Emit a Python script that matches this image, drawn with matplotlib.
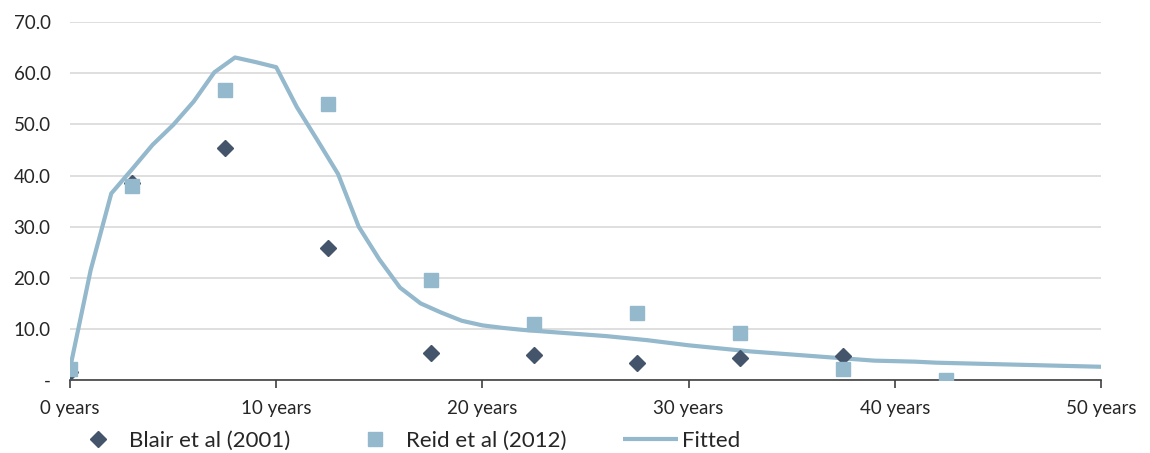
import matplotlib
matplotlib.use("Agg")
import matplotlib.pyplot as plt
from matplotlib.ticker import FixedLocator, FuncFormatter

# ------------------------------
# DATA
# ------------------------------
blair_x = [0, 3, 7.5, 12.5, 17.5, 22.5, 27.5, 32.5, 37.5]
blair_y = [1.5, 38.5, 45.3, 25.8, 5.3, 5.0, 3.3, 4.4, 4.8]

reid_x = [0, 3, 7.5, 12.5, 17.5, 22.5, 27.5, 32.5, 37.5, 42.5]
reid_y = [2.2, 38.0, 56.7, 54.0, 19.5, 10.9, 13.1, 9.2, 2.2, 0.0]

fit_x = list(range(0, 51))
fit_y = [2.3, 21.5, 36.5, 41.2, 46.0, 49.9, 54.5, 60.2, 63.1, 62.2,
         61.2, 53.4, 46.9, 40.3, 30.0, 23.6, 18.1, 15.0, 13.2, 11.6,
         10.7, 10.2, 9.8, 9.5, 9.2, 8.9, 8.6, 8.2, 7.8, 7.3,
         6.8, 6.4, 6.0, 5.6, 5.3, 5.0, 4.7, 4.4, 4.1, 3.8,
         3.7, 3.6, 3.4, 3.3, 3.2, 3.1, 3.0, 2.9, 2.8, 2.7, 2.6]

x_ticks = [0, 10, 20, 30, 40, 50]
y_ticks = [0, 10, 20, 30, 40, 50, 60, 70]

DARK = "#44546A"
LIGHT = "#94B8CC"
TEXT = "#262626"

plt.rcParams['font.family'] = ['Lato', 'DejaVu Sans']

fig = plt.figure(figsize=(11.5, 4.53), dpi=100)
ax = fig.add_axes([0.0609, 0.161, 0.8965, 0.790])

ax.plot(fit_x, fit_y, color=LIGHT, lw=3, solid_capstyle='butt',
        label="Fitted", zorder=3)
ax.plot(blair_x, blair_y, ls='none', marker='D', ms=8.5, color=DARK,
        mec=DARK, label="Blair et al (2001)", zorder=4)
ax.plot(reid_x, reid_y, ls='none', marker='s', ms=10, color=LIGHT,
        mec=LIGHT, label="Reid et al (2012)", zorder=5)

ax.set_xlim(0, 50)
ax.set_ylim(0, 70)
ax.xaxis.set_major_locator(FixedLocator(x_ticks))
ax.yaxis.set_major_locator(FixedLocator(y_ticks))
ax.xaxis.set_major_formatter(FuncFormatter(lambda v, p: f"{int(v)} years"))
ax.yaxis.set_major_formatter(FuncFormatter(lambda v, p: "-" if v == 0 else f"{v:.1f}"))

ax.grid(axis='y', color="#D9D9D9", lw=1.2)
ax.set_axisbelow(True)
for s in ['top', 'right', 'left']:
    ax.spines[s].set_visible(False)
ax.spines['bottom'].set_color("#404040")
ax.spines['bottom'].set_linewidth(1.2)

ax.tick_params(axis='x', length=6, width=1.2, color="#404040", labelsize=13.5,
               labelcolor=TEXT, pad=8, direction='out')
ax.tick_params(axis='y', length=0, labelsize=13.5, labelcolor=TEXT, pad=14)

h, l = ax.get_legend_handles_labels()
order = [1, 2, 0]
fig.legend([h[i] for i in order], [l[i] for i in order], loc='center left',
           bbox_to_anchor=(0.0609, 0.026), ncol=3, frameon=False, fontsize=16,
           handlelength=2.5, columnspacing=2.55, handletextpad=0.15,
           borderpad=0, borderaxespad=0, labelcolor=TEXT)

fig.savefig("out.png", dpi=100)
